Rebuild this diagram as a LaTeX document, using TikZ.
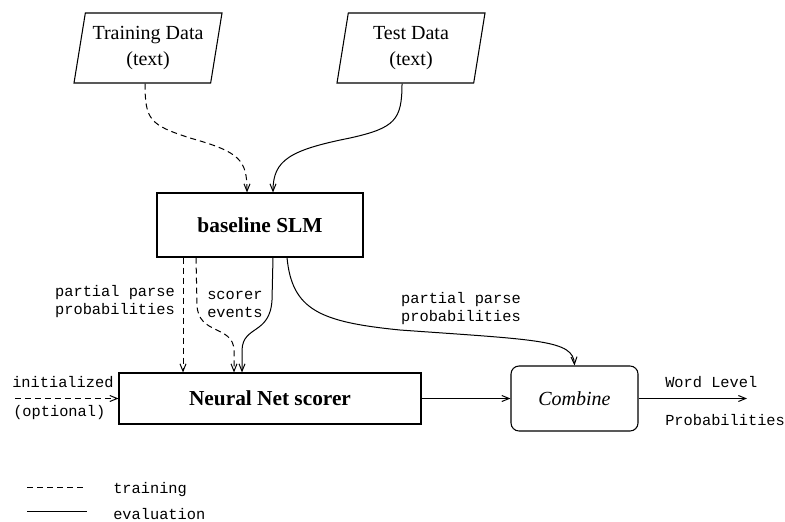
\documentclass[tikz,border=0pt]{standalone}
\usepackage{fontspec}
\setmainfont{Liberation Serif}
\setmonofont{Liberation Mono}
\usetikzlibrary{arrows.meta,shapes.geometric,calc}
\begin{document}
\begin{tikzpicture}[x=0.75pt,y=-0.75pt,
  box/.style={draw,line width=0.8pt,rectangle,inner sep=0pt},
  para/.style={draw,line width=0.8pt,trapezium,trapezium left angle=75.6,trapezium right angle=104.4,trapezium stretches body,minimum width=111pt,minimum height=52.5pt,inner sep=0pt,font=\fontsize{15}{20}\selectfont,align=center},
  boldtxt/.style={font=\bfseries\fontsize{16}{19}\selectfont},
  lbl/.style={font=\ttfamily\fontsize{11.5}{13.5}\selectfont,inner sep=0pt},
  conn/.style={line width=0.75pt,-{Straight Barb[length=5.5pt,width=4.5pt]}},
  trainln/.style={dash pattern=on 4.5pt off 3pt}]
\useasboundingbox (0,0) rectangle (785,521);

% nodes
\node[para] (trd) at (148,48) {Training Data\\(text)};
\node[para] (tsd) at (411,48) {Test Data\\(text)};
\node[box,minimum width=154.5pt,minimum height=48pt,boldtxt] (slm) at (260,225) {baseline SLM};
\node[box,minimum width=226.5pt,minimum height=38.25pt,boldtxt] (nn) at (270,398.5) {Neural Net scorer};
\node[box,rounded corners=6pt,minimum width=95.25pt,minimum height=48.75pt,font=\itshape\fontsize{15}{18}\selectfont] (comb) at (574.5,398.5) {Combine};

% labels
\node[lbl,align=left] (l1) at (115,301.5) {partial parse\\probabilities};
\node[lbl,align=left,anchor=west] (l2) at (207,304) {scorer\\events};
\node[lbl,align=left] (l3) at (461,308.5) {partial parse\\probabilities};
\node[lbl,anchor=west] (l4) at (12,382) {initialized};
\node[lbl,anchor=west] (l5) at (13,413) {(optional)};
\node[lbl,anchor=west] (l6) at (665,382) {Word Level};
\node[lbl,anchor=west] (l7) at (665,420) {Probabilities};
\node[lbl,anchor=west] (l8) at (113,490) {training};
\node[lbl,anchor=west] (l9) at (113,514) {evaluation};

% coordinates
\coordinate (init) at (15,398.5);
\coordinate (out) at (747,398.5);
\coordinate (lga) at (27,487);
\coordinate (lgb) at (84,487);
\coordinate (lgc) at (27,511);
\coordinate (lgd) at (87,511);

% connectors
\draw[conn,trainln] ($(trd.south)+(-3,0)$) .. controls (145,120) and (150,125) .. (190,138) .. controls (240,152) and (247,160) .. ($(slm.north)+(-13,0)$);
\draw[conn] ($(tsd.south)+(-9,0)$) .. controls (402,120) and (395,128) .. (350,138) .. controls (290,150) and (273,160) .. ($(slm.north)+(13,0)$);

\draw[conn,trainln] ($(slm.south)+(-77,0)$) -- ($(nn.north)+(-87,0)$);
\draw[conn,trainln] ($(slm.south)+(-64,0)$) -- (197,305) .. controls (198,335) and (233,325) .. (234,350) -- ($(nn.north)+(-36,0)$);
\draw[conn] ($(slm.south)+(13,0)$) -- (272,300) .. controls (270,335) and (243,325) .. (242,350) -- ($(nn.north)+(-28,0)$);
\draw[conn] ($(slm.south)+(27,0)$) .. controls (292,310) and (320,322) .. (400,330) .. controls (540,340) and (573,340) .. (comb.north);

\draw[conn] (nn.east) -- (comb.west);
\draw[conn] (comb.east) -- (out);
\draw[conn,trainln] (init) -- (nn.west);

% legend
\draw[line width=0.75pt,trainln] (lga) -- (lgb);
\draw[line width=0.75pt] (lgc) -- (lgd);
\end{tikzpicture}
\end{document}
